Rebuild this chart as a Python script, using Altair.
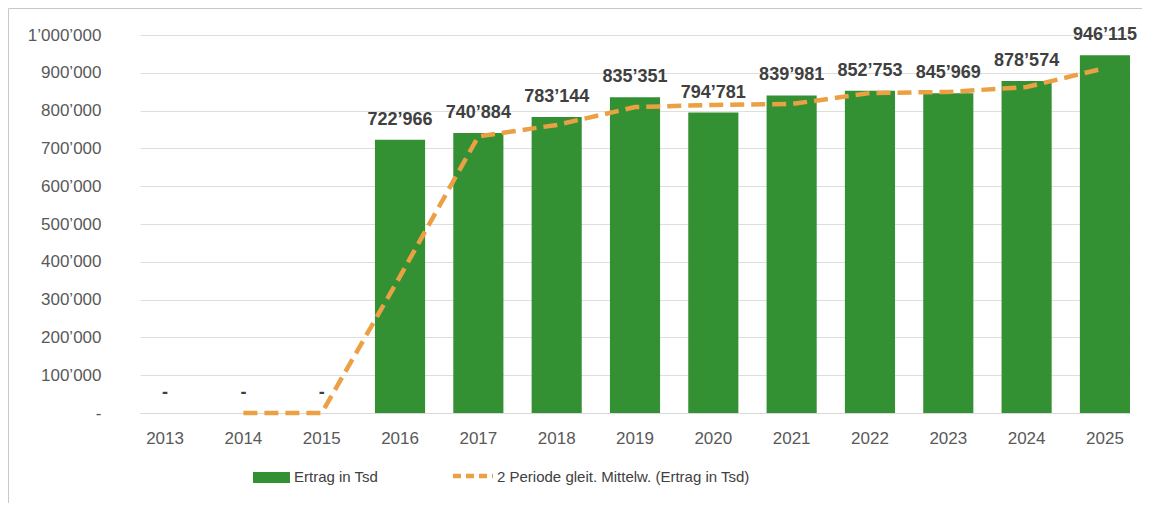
import altair as alt
import pandas as pd

years = ["2013", "2014", "2015", "2016", "2017", "2018", "2019",
         "2020", "2021", "2022", "2023", "2024", "2025"]
ertrag = [0, 0, 0, 722966, 740884, 783144, 835351,
          794781, 839981, 852753, 845969, 878574, 946115]
ma_years = ["2014", "2015", "2016", "2017", "2018", "2019",
            "2020", "2021", "2022", "2023", "2024", "2025"]
ma_values = [0, 0, 361483, 731925, 762014, 809248,
             815066, 817381, 846367, 849361, 862272, 912345]
y_ticks = [0, 100000, 200000, 300000, 400000, 500000,
           600000, 700000, 800000, 900000, 1000000]
series_names = ["Ertrag in Tsd", "2 Periode gleit. Mittelw. (Ertrag in Tsd)"]

GREEN = "#339133"
ORANGE = "#EBA044"
FONT = "Liberation Sans"


def fmt(v):
    return "-" if v == 0 else f"{v:,}".replace(",", "\u2019")


bars_df = pd.DataFrame({"Jahr": years, "Ertrag": ertrag,
                        "Label": [fmt(v) for v in ertrag]})
ma_df = pd.DataFrame({"Jahr": ma_years, "MA": ma_values})
leg1 = pd.DataFrame({"name": [series_names[0]]})
leg2 = pd.DataFrame({"name": [series_names[1]]})
frame_df = pd.DataFrame({"k": [1]})

W, H = 990, 378

xscale = alt.Scale(domain=years, paddingInner=0.36, paddingOuter=0)
yscale = alt.Scale(domain=[0, 1000000], nice=False)

x_axis = alt.Axis(labelAngle=0, labelFontSize=17, labelColor="#595959",
                  labelFont=FONT, labelPadding=17, ticks=False,
                  domainColor="#d9d9d9", domainWidth=1)
y_axis = alt.Axis(values=y_ticks, tickCount=11,
                  labelExpr="datum.value == 0 ? '-\u2007\u2007' : replace(format(datum.value, ','), regexp(',', 'g'), '\u2019')",
                  ticks=False, domain=False, gridColor="#dedede",
                  labelOverlap=False,
                  labelPadding=39, labelFontSize=17, labelColor="#595959",
                  labelFont=FONT)

bars = alt.Chart(bars_df).mark_bar(color=GREEN).encode(
    x=alt.X("Jahr:N", scale=xscale, title=None, axis=x_axis),
    y=alt.Y("Ertrag:Q", scale=yscale, title=None, axis=y_axis))

line = alt.Chart(ma_df).mark_line(color=ORANGE, strokeWidth=4.5,
                                  strokeDash=[14, 7]).encode(
    x=alt.X("Jahr:N", scale=xscale, title=None, axis=x_axis),
    y=alt.Y("MA:Q", scale=yscale, title=None, axis=y_axis))

labels = alt.Chart(bars_df).mark_text(dy=-15, baseline="alphabetic", fontWeight="bold",
                                      fontSize=18, color="#404040", font=FONT).encode(
    x=alt.X("Jahr:N", scale=xscale, title=None, axis=x_axis),
    y=alt.Y("Ertrag:Q", scale=yscale, title=None, axis=y_axis),
    text="Label:N")

leg_rect = alt.Chart(leg1).mark_rect(color=GREEN).encode(
    x=alt.value(113), x2=alt.value(150), y=alt.value(437), y2=alt.value(448))
leg_text1 = alt.Chart(leg1).mark_text(align="left", baseline="middle", fontSize=15,
                                      color="#404040",
                                      font="Liberation Sans Narrow, Liberation Sans").encode(
    x=alt.value(154), y=alt.value(442), text="name:N")
leg_dash = alt.Chart(leg2).mark_rule(color=ORANGE, strokeWidth=4.5, strokeDash=[8, 5]).encode(
    x=alt.value(313), x2=alt.value(353), y=alt.value(441))
leg_text2 = alt.Chart(leg2).mark_text(align="left", baseline="middle", fontSize=15,
                                      color="#404040",
                                      font="Liberation Sans Narrow, Liberation Sans").encode(
    x=alt.value(357), y=alt.value(442), text="name:N")

frame_top = alt.Chart(frame_df).mark_rule(color="#c8c8c8", strokeWidth=1).encode(
    x=alt.value(-131.5), x2=alt.value(W + 12), y=alt.value(-26.5))
frame_left = alt.Chart(frame_df).mark_rule(color="#c8c8c8", strokeWidth=1).encode(
    x=alt.value(-131.5), y=alt.value(-26.5), y2=alt.value(H + 110))

chart = alt.layer(bars, line, labels, leg_rect, leg_text1, leg_dash, leg_text2,
                  frame_top, frame_left).properties(
    width=W, height=H,
    autosize=alt.AutoSizeParams(type="none"),
    padding={"left": 132, "top": 27, "right": 12, "bottom": 90},
    background="white",
).configure_view(stroke=None)

chart.save("out.html", embed_options={"renderer": "svg", "actions": False})
